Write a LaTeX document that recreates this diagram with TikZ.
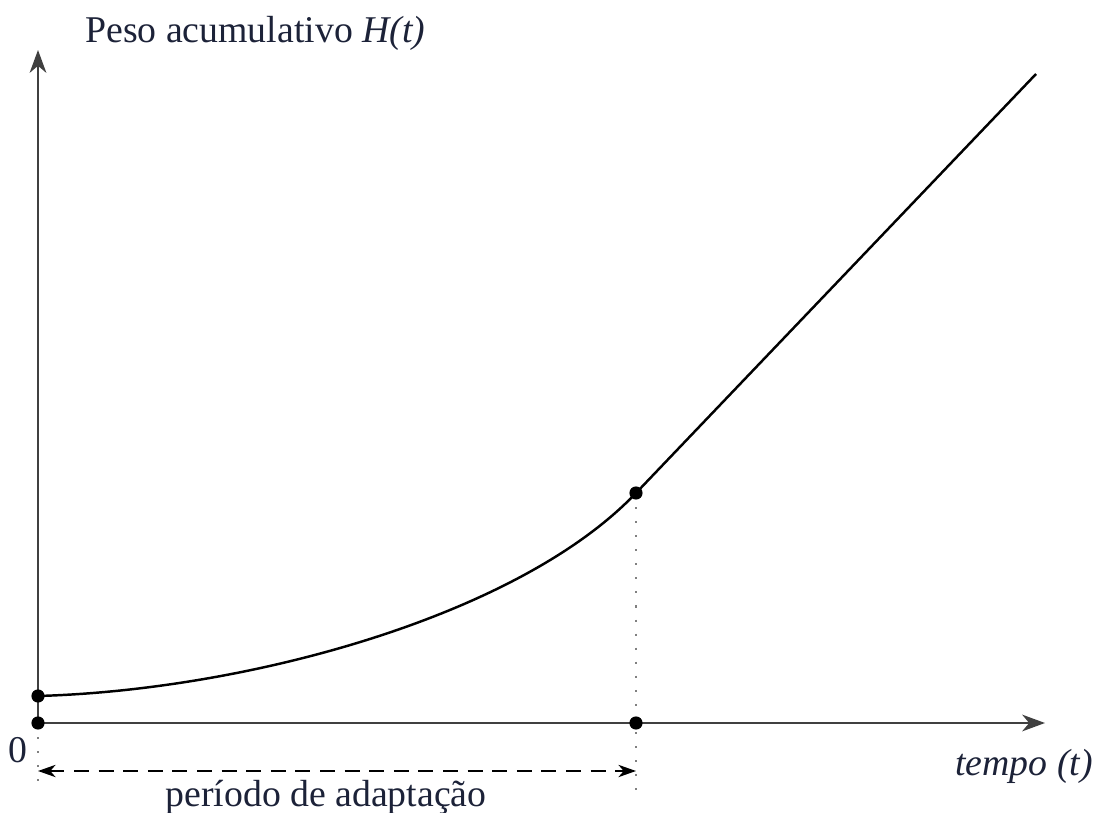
\documentclass[tikz,border=0pt]{standalone}
\usepackage{fontspec}
\setmainfont{Liberation Serif}
\usetikzlibrary{arrows,arrows.meta,positioning}
\definecolor{tinta}{HTML}{1C2238}
\tikzstyle{ponto} = [circle, fill=black, inner sep=0pt, minimum size=7.5pt]
\tikzstyle{eixo} = [-{Stealth[length=13pt, width=9.5pt, inset=4pt]}, line width=1.1pt, black!75]
\tikzstyle{rotulo} = [text=tinta, font=\fontsize{21.5}{25}\selectfont]
\tikzstyle{guia} = [line width=1.6pt, black!50, dash pattern=on 1.2pt off 6.8pt]
\begin{document}
\begin{tikzpicture}[x=0.02cm, y=-0.02cm]
					\useasboundingbox (0,0) rectangle (1098,813);
					% eixos
					\coordinate (origem) at (38,723);
					\coordinate (topo) at (38,50);
					\coordinate (fim) at (1045,723);
					\draw[eixo] (origem) -- (topo);
					\draw[eixo] (origem) -- (fim);
					% guias e periodo
					\coordinate (h0) at (38,696);
					\coordinate (ha) at (636,493);
					\coordinate (hf) at (1036,74);
					\coordinate (b0) at (38,792);
					\coordinate (ba) at (636,792);
					\draw[guia] (origem) -- (b0);
					\draw[guia] (ha) -- (ba);
					\coordinate (d0) at (38,771);
					\coordinate (da) at (636,771);
					\draw[{Stealth[length=10pt, width=7pt, inset=3pt]}-{Stealth[length=10pt, width=7pt, inset=3pt]}, line width=1.1pt, dash pattern=on 8.5pt off 5.5pt] (d0) -- (da);
					% curva de peso
					\draw[line width=1.4pt] (h0) .. controls (250,690) and (520,615) .. (ha) -- (hf);
					% pontos
					\node[ponto] (p0) at (origem) {};
					\node[ponto] (q0) at (h0) {};
					\node[ponto] (qa) at (ha) {};
					\node[ponto] (ta) at (636,723) {};
					% rotulos
					\node[rotulo, anchor=base west, inner sep=0pt] (ylab) at (85,43) {Peso acumulativo \textit{H(t)}};
					\node[rotulo, anchor=base east, inner sep=0pt] (xlab) at (1093,775) {\textit{tempo (t)}};
					\node[rotulo, anchor=base east, inner sep=0pt] (zero) at (28,762) {0};
					\node[rotulo, anchor=base, inner sep=0pt] (per) at (326,806) {período de adaptação};
\end{tikzpicture}
\end{document}
